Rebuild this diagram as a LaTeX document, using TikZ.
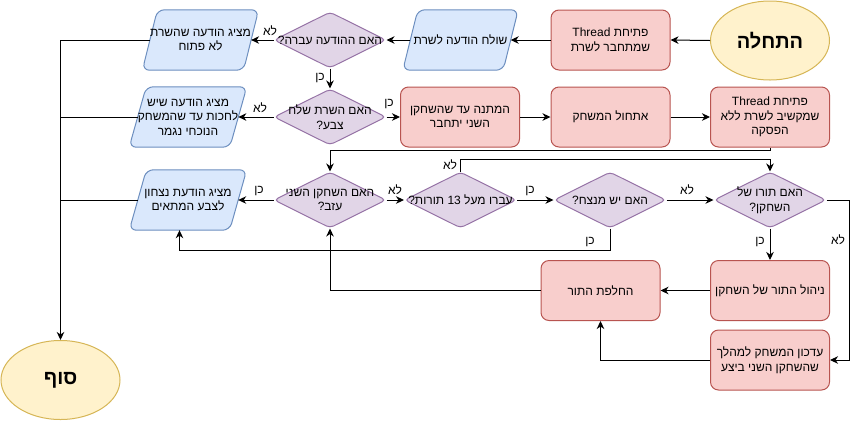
\documentclass[tikz,border=0pt]{standalone}
\usepackage{fontspec}
\setmainfont{Liberation Sans}
\newfontfamily\hebf[Script=Hebrew]{Liberation Sans}
\TeXXeTstate=1
\usetikzlibrary{shapes.geometric,arrows.meta}
\definecolor{redF}{HTML}{F8CECC}
\definecolor{redS}{HTML}{B85450}
\definecolor{bluF}{HTML}{DAE8FC}
\definecolor{bluS}{HTML}{6C8EBF}
\definecolor{purF}{HTML}{E1D5E7}
\definecolor{purS}{HTML}{9673A6}
\definecolor{yelF}{HTML}{FFF2CC}
\definecolor{yelS}{HTML}{D6B656}
\pgfdeclarelayer{bg}
\pgfsetlayers{bg,main}
\tikzset{
  base/.style={font=\hebf\fontsize{12}{14.5}\selectfont, align=center, text=black},
  proc/.style={base, rectangle, rounded corners=8pt, draw=redS, fill=redF, line width=1pt,
    minimum width=119pt, minimum height=60pt, inner sep=0pt},
  term/.style={ellipse, draw=yelS, fill=yelF, line width=1pt, minimum width=119pt,
    minimum height=79pt, inner sep=0pt, font=\hebf\fontsize{20}{24}\selectfont\bfseries},
  para/.style={base, rectangle, minimum width=100pt, minimum height=60pt, inner sep=0pt},
  parashape/.style={draw=bluS, fill=bluF, line width=1pt, rounded corners=7pt},
  dia/.style={diamond, draw=purS, fill=purF, line width=1pt, rounded corners=4pt,
    minimum width=112pt, minimum height=56pt, inner sep=0pt},
  dtext/.style={base},
  lbl/.style={base, inner sep=0pt},
  conn/.style={line width=1pt, draw=black},
  arr/.style={conn, -{Stealth[length=8pt,width=7.5pt,inset=2.5pt]}},
}
\begin{document}
\begin{tikzpicture}[x=1pt,y=-1pt]
\useasboundingbox (0,0) rectangle (861,421);

% nodes
\node[term] (start) at (770,40.5) {\beginR התחלה\endR};
\node[proc] (b1) at (610.5,40) {\beginR פתיחת \beginL Thread\endL{}\endR\\\beginR שמתחבר לשרת\endR};
\node[para] (p1) at (460.5,40) {\beginR שולח הודעה לשרת\endR};
\node[dia, label={[dtext]center:{\beginR האם ההודעה עברה?\endR}}] (d1) at (330,40) {};
\node[para] (pm1) at (200.5,40) {\beginR מציג הודעה שהשרת\endR\\\beginR לא פתוח\endR};

\node[dia, label={[dtext]center:{\beginR האם השרת שלח\endR\\\beginR צבע?\endR}}] (d2) at (330,117) {};
\node[proc] (wait) at (460,117) {\beginR המתנה עד שהשחקן\endR\\\beginR השני יתחבר\endR};
\node[proc] (init) at (610.5,117) {\beginR אתחול המשחק\endR};
\node[proc] (th2) at (770,117) {\beginR פתיחת \beginL Thread\endL{}\endR\\\beginR שמקשיב לשרת ללא\endR\\\beginR הפסקה\endR};
\node[para] (pm2) at (188,117) {\beginR מציג הודעה שיש\endR\\\beginR לחכות עד שהמשחק\endR\\\beginR הנוכחי נגמר\endR};

\node[para] (pm3) at (188,200) {\beginR מציג הודעת נצחון\endR\\\beginR לצבע המתאים\endR};
\node[dia, label={[dtext]center:{\beginR האם השחקן השני\endR\\\beginR עזב?\endR}}] (d3) at (330,200) {};
\node[dia, label={[dtext]center:{\beginR עברו מעל \beginL 13\endL{} תורות?\endR}}] (d4) at (460.5,200) {};
\node[dia, label={[dtext]center:{\beginR האם יש מנצח?\endR}}] (d5) at (610,200) {};
\node[dia, label={[dtext]center:{\beginR האם תורו של\endR\\\beginR השחקן?\endR}}] (d6) at (770,200) {};

\node[proc] (n1) at (770,290.5) {\beginR ניהול התור של השחקן\endR};
\node[proc] (sw) at (600.5,290.5) {\beginR החלפת התור\endR};
\node[proc] (upd) at (770,360) {\beginR עדכון המשחק למהלך\endR\\\beginR שהשחקן השני ביצע\endR};
\node[term] (end) at (60.5,380) {\beginR סוף\endR};

% parallelogram outlines
\begin{pgfonlayer}{bg}
\foreach \n/\o in {p1/7.5, pm1/7.5, pm2/8.5, pm3/8.5}{
  \draw[parashape] ([xshift=\o pt]\n.north west) -- ([xshift=\o pt]\n.north east)
    -- ([xshift=-\o pt]\n.south east) -- ([xshift=-\o pt]\n.south west) -- cycle;
}
\end{pgfonlayer}

% connectors
\draw[arr] (start.west) -- (b1.east);
\draw[arr] (b1.west) -- (p1.east);
\draw[arr] (p1.west) -- (d1.east);
\draw[arr] (d1.west) -- (pm1.east);
\draw[arr] (d1.south) -- (d2.north);
\draw[arr] (d2.east) -- (wait.west);
\draw[arr] (d2.west) -- (pm2.east);
\draw[arr] (wait.east) -- (init.west);
\draw[arr] (init.east) -- (th2.west);
\draw[arr] (pm1.west) -- (pm1.west -| end.north) -- (end.north);
\draw[conn] (pm2.west) -- (pm2.west -| end.north);
\draw[conn] (pm3.west) -- (pm3.west -| end.north);
\draw[arr] (th2.south) -- ++(0,3) -| (d3.north);
\draw[arr] (d3.east) -- (d4.west);
\draw[arr] (d3.west) -- (pm3.east);
\draw[arr] (d4.north) -- ++(0,-12) -| (d6.north);
\draw[arr] (d4.east) -- (d5.west);
\draw[arr] (d5.east) -- (d6.west);
\draw[arr] (d5.south) -- ++(0,22) -| ([xshift=-8.5pt]pm3.south);
\draw[arr] (d6.south) -- (n1.north);
\draw[arr] (d6.east) -- ++(23,0) |- (upd.east);
\draw[arr] (n1.west) -- (sw.east);
\draw[arr] (upd.west) -| (sw.south);
\draw[arr] (sw.west) -| (d3.south);

% labels
\node[lbl] (l1) at (270,31) {\beginR לא\endR};
\node[lbl] (l2) at (320,78) {\beginR כן\endR};
\node[lbl] (l3) at (389,104) {\beginR כן\endR};
\node[lbl] (l4) at (260,108) {\beginR לא\endR};
\node[lbl] (l5) at (259,191) {\beginR כן\endR};
\node[lbl] (l6) at (395,190) {\beginR לא\endR};
\node[lbl] (l7) at (450,165) {\beginR לא\endR};
\node[lbl] (l8) at (530,191) {\beginR כן\endR};
\node[lbl] (l9) at (687,190) {\beginR לא\endR};
\node[lbl] (l10) at (590,242) {\beginR כן\endR};
\node[lbl] (l11) at (760,242) {\beginR כן\endR};
\node[lbl] (l12) at (838,240) {\beginR לא\endR};
\end{tikzpicture}
\end{document}
